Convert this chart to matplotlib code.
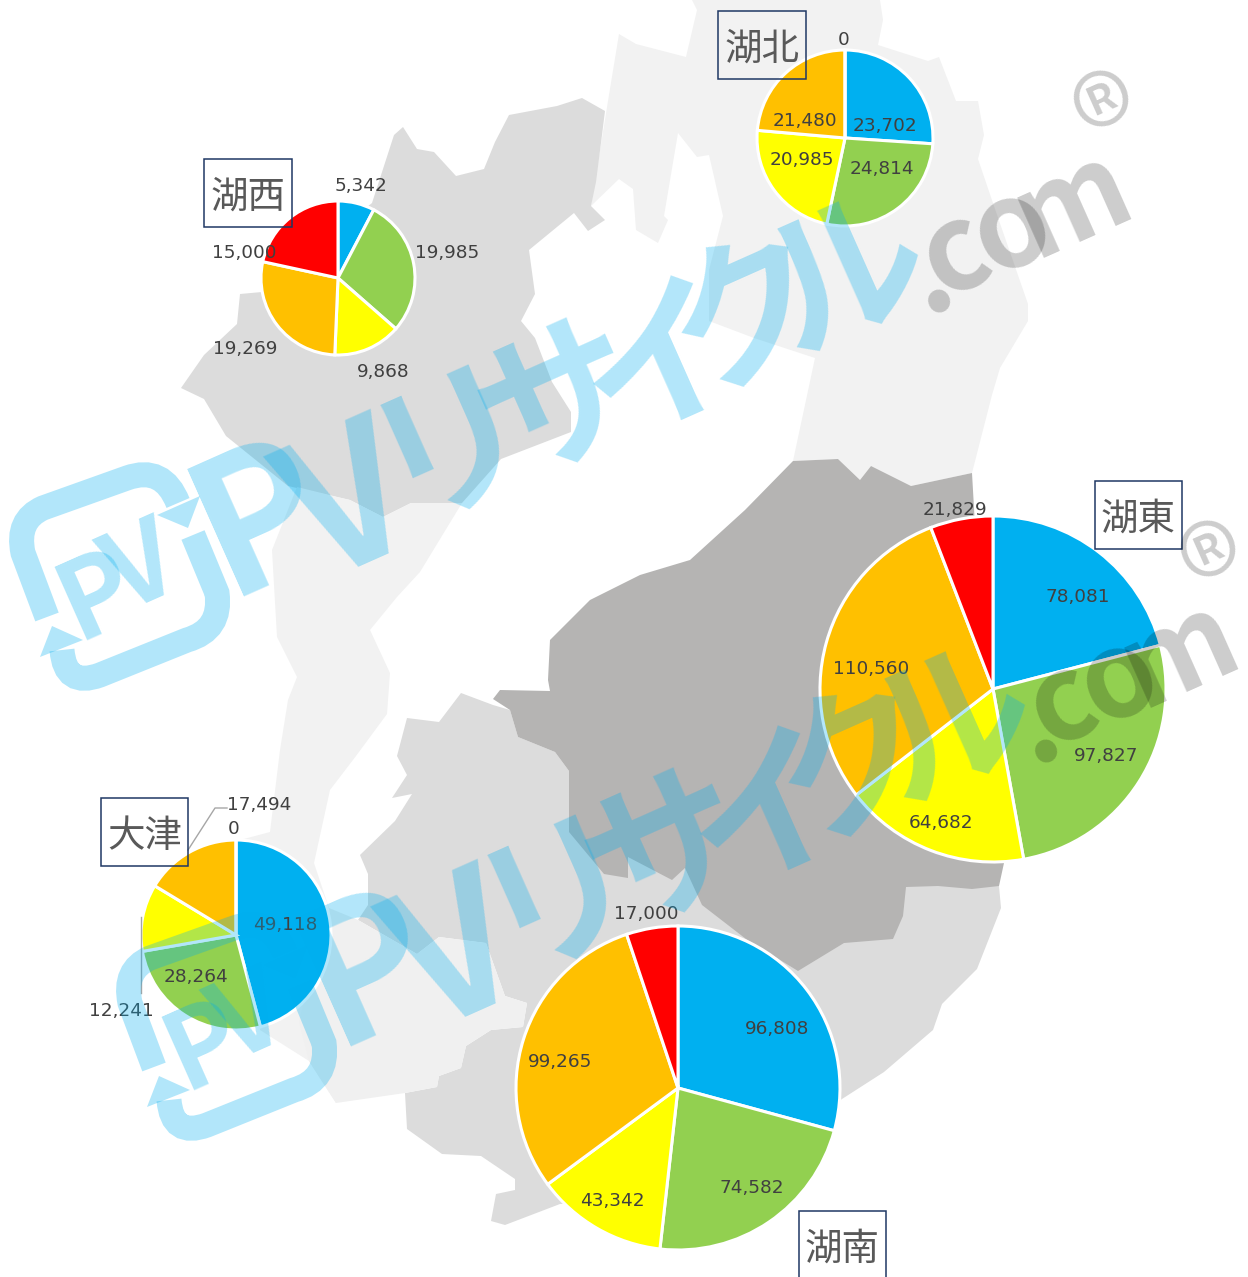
import matplotlib
matplotlib.use('Agg')
import matplotlib.pyplot as plt
from matplotlib.patches import Polygon, Rectangle, PathPatch
from matplotlib.path import Path
from matplotlib.transforms import Affine2D

W, H = 1248, 1277

plt.rcParams['font.family'] = ['DejaVu Sans', 'Noto Sans CJK JP']
WM_FONT = ['Liberation Sans Narrow', 'Noto Sans CJK JP', 'DejaVu Sans']

# ---- data ----
COLORS = ['#00B0F0', '#92D050', '#FFFF00', '#FFC000', '#FF0000']

REGIONS = ['湖北', '湖西', '湖東', '大津', '湖南']
kohoku = [23702, 24814, 20985, 21480, 0]
kosei = [5342, 19985, 9868, 19269, 15000]
koto = [78081, 97827, 64682, 110560, 21829]
otsu = [49118, 28264, 12241, 17494, 0]
konan = [96808, 74582, 43342, 99265, 17000]
VALUES = [kohoku, kosei, koto, otsu, konan]

# pie centre x, y, radius in image pixels
PIE_POS = [(845, 138, 88), (338, 278, 77), (993, 689, 173), (236, 935, 95), (678, 1088, 162)]

# label centres, same order as the values
LABEL_POS = [
    [(885, 126), (882, 169), (802, 160), (805, 121), (844, 40)],
    [(361, 186), (447, 253), (383, 372), (245, 349), (244, 253)],
    [(1078, 597), (1106, 756), (941, 823), (871, 669), (955, 510)],
    [(285, 925), (196, 977), (121, 1011), (259, 805), (234, 829)],
    [(777, 1029), (752, 1188), (612, 1201), (560, 1062), (646, 914)],
]

# left, top, right, bottom of the name boxes
BOXES = [(718, 11, 806, 79), (204, 159, 292, 227), (1095, 481, 1182, 549),
         (101, 798, 188, 866), (799, 1211, 886, 1285)]

# map outlines
map_north = [(692, 0), (880, 0), (883, 20), (878, 45), (928, 61), (939, 57), (956, 101), (978, 101),
             (984, 135), (978, 159), (995, 209), (1028, 304), (1028, 321), (1000, 368), (992, 395),
             (972, 473), (911, 486), (871, 466), (860, 480), (838, 459), (793, 461), (815, 358),
             (754, 338), (709, 321), (709, 270), (723, 216), (709, 155), (697, 157), (678, 133),
             (664, 216), (668, 220), (658, 243), (636, 230), (633, 189), (619, 179), (591, 206),
             (608, 101), (619, 34), (636, 44), (686, 57), (697, 10)]
map_west = [(403, 127), (417, 149), (434, 152), (456, 176), (484, 169), (495, 142), (509, 115),
            (557, 106), (582, 98), (605, 111), (602, 135), (596, 182), (591, 206), (605, 220),
            (588, 231), (574, 213), (529, 250), (535, 294), (521, 321), (535, 338), (552, 382),
            (571, 412), (571, 432), (501, 459), (462, 503), (411, 503), (383, 517), (350, 500),
            (288, 486), (226, 436), (204, 399), (181, 388), (204, 355), (237, 324), (240, 294),
            (262, 292), (372, 203), (394, 135)]
map_otsu = [(297, 487), (350, 500), (383, 517), (411, 503), (462, 503), (420, 572), (397, 597),
            (370, 630), (390, 673), (387, 714), (356, 756), (330, 790), (314, 863), (329, 908),
            (340, 1000), (336, 1103), (309, 1061), (260, 1030), (240, 840), (270, 832), (280, 750),
            (288, 700), (297, 677), (277, 637), (272, 550)]
map_south = [(461, 693), (493, 705), (510, 710), (518, 737), (555, 752), (569, 771), (700, 850),
             (999, 886), (1001, 908), (977, 969), (942, 1004), (933, 1030), (884, 1072), (842, 1099),
             (700, 1200), (560, 1204), (505, 1225), (491, 1221), (496, 1194), (515, 1190), (515, 1179),
             (481, 1156), (442, 1154), (407, 1129), (405, 1093), (437, 1087), (439, 1076), (461, 1068),
             (466, 1046), (491, 1030), (523, 1027), (527, 1003), (505, 996), (486, 943), (439, 937),
             (417, 954), (358, 920), (368, 905), (368, 874), (360, 855), (395, 821), (412, 794),
             (392, 798), (407, 775), (397, 756), (407, 718), (439, 722)]
map_mid = [(358, 920), (417, 954), (439, 937), (486, 943), (505, 996), (527, 1003), (523, 1027),
           (491, 1030), (466, 1046), (461, 1068), (439, 1076), (437, 1087), (405, 1093), (336, 1103),
           (309, 1061), (299, 1022), (329, 908)]
map_east = [(493, 699), (500, 690), (550, 691), (548, 680), (550, 640), (580, 610), (590, 600),
            (640, 575), (690, 560), (745, 510), (793, 461), (838, 459), (860, 480), (871, 466),
            (911, 486), (972, 473), (985, 700), (1004, 863), (999, 886), (972, 889), (938, 886),
            (906, 887), (903, 916), (893, 939), (844, 943), (798, 971), (746, 939), (702, 905),
            (685, 868), (672, 880), (628, 857), (628, 878), (604, 874), (569, 832), (569, 771),
            (555, 752), (518, 737), (510, 710)]

# watermark: characters, anchor x, anchor y (first copy)
wm_chars = ['P', 'V', 'リ', 'サ', 'イ', 'ク', 'ル', '.', 'c', 'o', 'm', '®']
wm_x = [262, 352, 452, 562, 662, 750, 846, 928, 955, 1012, 1073, 1116]
wm_y = [520, 510, 442, 404, 365, 316, 277, 275, 254, 230, 203, 132]
wm_size = [135, 135, 115, 115, 115, 115, 115, 85, 85, 85, 85, 92]
wm_weight = ['bold'] * 11 + ['normal']
wm_blue = [True] * 7 + [False] * 5
WM_OFFSET = (107, 450)
WM_ANGLE = 24
BLUE = '#00AEEF'


def py(y):
    return H - y


def flip(points):
    return [(x, py(y)) for x, y in points]


def draw_logo(ax, dx, dy):
    # rounded square made of two arrows, with PV inside
    arc_a = [(47, 617), (23, 553), (16, 520), (43, 508), (127, 478), (163, 465), (178, 503)]
    arc_b = [(193, 535), (217, 593), (222, 630), (187, 640), (100, 675), (65, 688), (62, 650)]
    codes = [Path.MOVETO, Path.LINETO, Path.CURVE3, Path.CURVE3, Path.LINETO, Path.CURVE3, Path.CURVE3]
    tr = Affine2D().translate(dx, -dy) + ax.transData
    ax.add_patch(PathPatch(Path(flip(arc_a) + flip(arc_b), codes + codes), fill=False, edgecolor=BLUE,
                           alpha=0.3, linewidth=18, capstyle='butt', transform=tr, zorder=5))
    for tri in ([(200, 496), (157, 515), (188, 528)], [(52, 626), (83, 640), (40, 657)]):
        ax.add_patch(Polygon(flip(tri), closed=True, facecolor=BLUE, edgecolor='none', alpha=0.3,
                             transform=tr, zorder=5))
    for ch, x, y in [('P', 97, 597), ('V', 142, 571)]:
        ax.text(x + dx, py(y + dy), ch, fontsize=78, family=WM_FONT, fontweight='bold', color=BLUE, alpha=0.3,
                rotation=WM_ANGLE, rotation_mode='anchor', ha='center', va='center', zorder=5)


def draw_watermark(ax, dx, dy):
    draw_logo(ax, dx, dy)
    for ch, x, y, s, wt, blue in zip(wm_chars, wm_x, wm_y, wm_size, wm_weight, wm_blue):
        clr, al = (BLUE, 0.3) if blue else ('#000000', 0.2)
        ax.text(x + dx, py(y + dy), ch, fontsize=s, family=WM_FONT, fontweight=wt, color=clr, alpha=al,
                rotation=WM_ANGLE, rotation_mode='anchor', ha='center', va='center', zorder=5)


fig = plt.figure(figsize=(W / 100, H / 100), dpi=100)
ax = fig.add_axes([0, 0, 1, 1])

# map in the background
for pts, clr in [(map_north, '#F2F2F2'), (map_west, '#DCDCDC'), (map_otsu, '#F2F2F2'),
                 (map_south, '#DCDCDC'), (map_mid, '#F0F0F0'), (map_east, '#B5B4B3')]:
    ax.add_patch(Polygon(flip(pts), closed=True, facecolor=clr, edgecolor='none', zorder=0))

# pies
for vals, (x, y, r) in zip(VALUES, PIE_POS):
    ax.pie(vals, colors=COLORS, center=(x, py(y)), radius=r, startangle=90, counterclock=False,
           wedgeprops={'edgecolor': 'white', 'linewidth': 2.2}, frame=True)

for vals, positions in zip(VALUES, LABEL_POS):
    for v, (x, y) in zip(vals, positions):
        ax.text(x, py(y), f'{v:,}', fontsize=13.3, color='#404040', ha='center', va='center', zorder=3)

# leader lines for 大津
ax.plot([227, 215, 188], [py(808), py(808), py(850)], color='#A6A6A6', linewidth=1, zorder=3)
ax.plot([141, 141], [py(917), py(993)], color='#A6A6A6', linewidth=1, zorder=3)

# name boxes
for name, (l, t, r, b) in zip(REGIONS, BOXES):
    ax.add_patch(Rectangle((l, py(b)), r - l, b - t, fill=False, edgecolor='#1F3864', linewidth=1.1, zorder=4))
    ax.text((l + r) / 2, py(t + 39), name, fontsize=27, color='#595959', ha='center', va='center', zorder=4)

draw_watermark(ax, 0, 0)
draw_watermark(ax, *WM_OFFSET)

ax.set_xlim(0, W)
ax.set_ylim(0, H)
ax.set_aspect('auto')
ax.axis('off')

fig.savefig('out.png', dpi=100)
